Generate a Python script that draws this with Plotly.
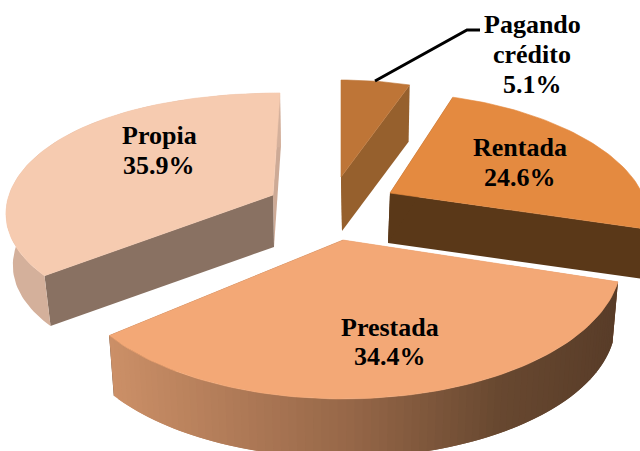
import math
import plotly.graph_objects as go

categories = ["Pagando crédito", "Rentada", "Prestada", "Propia"]
shares = [5.1, 24.6, 34.4, 35.9]

# Drawing order differs from pie order: the front slice is painted last
paint_order = ["Pagando crédito", "Rentada", "Propia", "Prestada"]

# Per-slice projection of the tilted pie (pixel-like plot units)
geom = {
    "Pagando crédito": dict(ax=341, ay=177, a=218, bx=0, q=0, c=97, by=0, lean=0, h=54, sx=1, m=0.97,
                            top="#BE7537", edge0="#96602D", edge1="#96602D", arc=None),
    "Rentada": dict(ax=390, ay=193, a=252, bx=.22, q=0, c=118.6, by=.157, lean=0, h=50, sx=-2, m=1.0,
                    top="#E48A40", edge0="#5A3818", edge1="#5A3818", arc=None),
    "Prestada": dict(ax=343, ay=240, a=275, bx=.155, q=0, c=137.6, by=.155, lean=0, h=62, sx=0, m=0.98,
                     top="#F3A876", edge0="#CB8F67", edge1="#583C28", arc="grad"),
    "Propia": dict(ax=273, ay=195, a=264, bx=.12, q=.05, c=117.7, by=.133, lean=-7, h=52, sx=1, m=0.978,
                   top="#F6CBB0", edge0="#897162", edge1="#CDAA96", arc="#D4B09B"),
}

label_lines = {
    "Pagando crédito": (532, [24, 54, 84], ["Pagando", "crédito"]),
    "Rentada": (520, [147, 177], ["Rentada"]),
    "Prestada": (390, [327, 356], ["Prestada"]),
    "Propia": (159, [135, 165], ["Propia"]),
}

leader_x = [375, 467, 480]
leader_y = [81, 30, 30]

# Slice angular ranges, clockwise from the top, from the values
total = sum(shares)
ranges = {}
cum = 0.0
for cat, val in zip(categories, shares):
    ranges[cat] = (cum / total * 2 * math.pi, (cum + val) / total * 2 * math.pi)
    cum += val


def pt(g, th, bottom=False):
    Y = -math.cos(th)
    dx = math.sin(th) * g["a"] * (1 + g["bx"] * Y + g["q"] * Y * Y) + g["lean"] * Y
    dy = Y * g["c"] * (1 + g["by"] * Y)
    if bottom:
        return g["ax"] + g["sx"] + dx * g["m"], g["ay"] + g["h"] + dy * g["m"]
    return g["ax"] + dx, g["ay"] + dy


def apex(g, bottom=False):
    if bottom:
        return g["ax"] + g["sx"], g["ay"] + g["h"]
    return g["ax"], g["ay"]


def poly(fig, pts, color, width=0.0):
    xs = [p[0] for p in pts] + [pts[0][0]]
    ys = [p[1] for p in pts] + [pts[0][1]]
    fig.add_trace(go.Scatter(x=xs, y=ys, mode="lines", fill="toself", fillcolor=color,
                             line=dict(color=color, width=width), hoverinfo="skip", showlegend=False))


def grad(x):
    stops = [(112, (203, 143, 103)), (350, (150, 103, 72)), (500, (104, 72, 48)), (620, (88, 60, 40))]
    for (x0, c0), (x1, c1) in zip(stops, stops[1:]):
        if x <= x1:
            t = max(0, (x - x0) / (x1 - x0))
            return "rgb(%d,%d,%d)" % tuple(round(u + (v - u) * t) for u, v in zip(c0, c1))
    return "rgb(88,60,40)"


fig = go.Figure()
for cat in paint_order:
    g = geom[cat]
    t0, t1 = ranges[cat]
    n = max(6, int((t1 - t0) / math.radians(1.5)))
    ths = [t0 + (t1 - t0) * i / n for i in range(n + 1)]
    # straight cut faces
    poly(fig, [apex(g), pt(g, t1), pt(g, t1, True), apex(g, True)], g["edge1"])
    poly(fig, [apex(g), pt(g, t0), pt(g, t0, True), apex(g, True)], g["edge0"])
    # outer rim
    if g["arc"] == "grad":
        # bands painted right to left, each overlapping its neighbour, so no seams show
        for i in reversed(range(n)):
            a0, a1 = ths[max(i - 1, 0)], ths[i + 1]
            p0, p1 = pt(g, ths[i]), pt(g, a1)
            poly(fig, [pt(g, a0), p1, pt(g, a1, True), pt(g, a0, True)], grad((p0[0] + p1[0]) / 2))
    elif g["arc"]:
        poly(fig, [pt(g, a) for a in ths] + [pt(g, a, True) for a in reversed(ths)], g["arc"])
    # top face
    poly(fig, [apex(g)] + [pt(g, a) for a in ths], g["top"], 0.6)

fig.add_trace(go.Scatter(x=leader_x, y=leader_y, mode="lines", line=dict(color="black", width=3),
                         hoverinfo="skip", showlegend=False))

for cat, val in zip(categories, shares):
    x, ys, words = label_lines[cat]
    for y, line in zip(ys, words + [f"{val}%"]):
        fig.add_annotation(x=x, y=y, text=f"<b>{line}</b>", showarrow=False, xanchor="center", yanchor="middle",
                           font=dict(family="Liberation Serif", size=26, color="black"))

fig.update_layout(
    width=640, height=451, margin=dict(l=0, r=0, t=0, b=0),
    paper_bgcolor="white", plot_bgcolor="white", showlegend=False,
    xaxis=dict(range=[0, 640], visible=False, fixedrange=True),
    yaxis=dict(range=[451, 0], visible=False, fixedrange=True),
)
fig.write_html("out.html", config=dict(displayModeBar=False),
               post_script="document.body.style.margin='0';document.body.style.overflow='hidden';")
